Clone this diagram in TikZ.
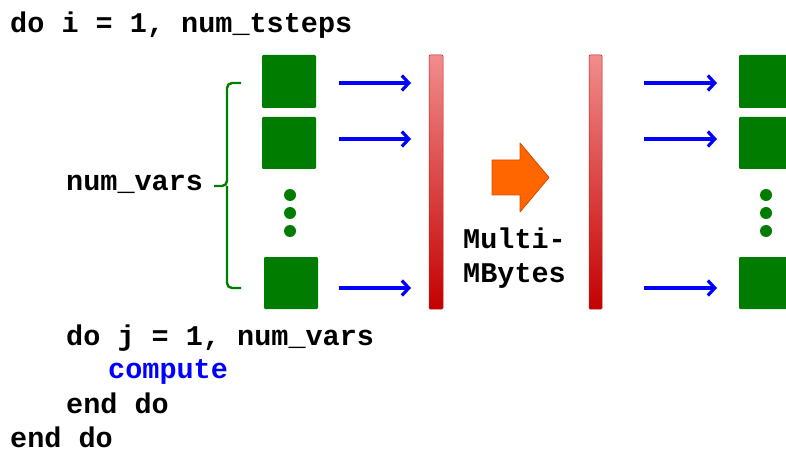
\documentclass[tikz,border=0pt]{standalone}
\usepackage{fontspec}
\setmonofont{Liberation Mono}
\usetikzlibrary{arrows.meta,shadings}
\definecolor{vargreen}{RGB}{0,124,0}
\definecolor{arrowblue}{RGB}{0,0,255}
\definecolor{bartop}{RGB}{242,140,140}
\definecolor{barbot}{RGB}{196,0,0}
\definecolor{barline}{RGB}{180,30,30}
\definecolor{bigorange}{RGB}{255,102,0}
\definecolor{bigorangeline}{RGB}{215,75,0}
\tikzset{
  code/.style={anchor=base west, inner sep=0pt, font=\ttfamily\bfseries\fontsize{28.5}{36}\selectfont},
  varbox/.style={fill=vargreen, rounded corners=1.2pt, inner sep=0pt},
  dotmark/.style={circle, fill=vargreen, inner sep=0pt, minimum size=12pt},
  flow/.style={draw=arrowblue, line width=3.2pt, -{Straight Barb[length=7pt,width=15pt,line width=3.2pt]}},
  buffer/.style={top color=bartop, bottom color=barbot, draw=barline, line width=0.5pt, rounded corners=1pt, inner sep=0pt},
  brace/.style={draw=vargreen, line width=2.4pt, rounded corners=5pt}
}
\begin{document}
\begin{tikzpicture}[x=1pt,y=-1pt]
\useasboundingbox (0,0) rectangle (786,454);

% loop text
\node[code] (outer) at (10,33) {do i = 1, num\_tsteps};
\node[code] (nv) at (66,191) {num\_vars};
\node[code] (inner) at (66,345) {do j = 1, num\_vars};
\node[code, text=arrowblue] (comp) at (108,378) {compute};
\node[code] (innerend) at (66,413) {end do};
\node[code] (outerend) at (10,447) {end do};
\node[code] (mb1) at (463,248) {Multi-};
\node[code] (mb2) at (463,282) {MBytes};

% variables on the left
\path[varbox] (262,55) rectangle (316,108);
\node[inner sep=0pt, minimum width=54pt, minimum height=53pt] (v1) at (289,81.5) {};
\path[varbox] (262,117) rectangle (316,169);
\node[inner sep=0pt, minimum width=54pt, minimum height=52pt] (v2) at (289,143) {};
\path[varbox] (264,257) rectangle (318,309);
\node[inner sep=0pt, minimum width=54pt, minimum height=52pt] (v3) at (291,283) {};
\node[dotmark] (d1) at (290,195) {};
\node[dotmark] (d2) at (290,213) {};
\node[dotmark] (d3) at (290,231) {};

% variables on the right
\path[varbox] (739,55) rectangle (800,108);
\node[inner sep=0pt, minimum width=47pt, minimum height=53pt] (w1) at (762.5,81.5) {};
\path[varbox] (739,117) rectangle (800,169);
\node[inner sep=0pt, minimum width=47pt, minimum height=52pt] (w2) at (762.5,143) {};
\path[varbox] (739,257) rectangle (800,309);
\node[inner sep=0pt, minimum width=47pt, minimum height=52pt] (w3) at (762.5,283) {};
\node[dotmark] (e1) at (766,195) {};
\node[dotmark] (e2) at (766,213) {};
\node[dotmark] (e3) at (766,231) {};

% buffers
\path[buffer] (429,55) rectangle (443,309);
\node[inner sep=0pt, minimum width=14pt, minimum height=254pt] (buf1) at (436,182) {};
\path[buffer] (589,55) rectangle (602,309);
\node[inner sep=0pt, minimum width=13pt, minimum height=254pt] (buf2) at (595.5,182) {};

% transfer arrow
\draw[fill=bigorange, draw=bigorangeline, line width=0.8pt, line join=round]
  (492,160) -- (520,160) -- (520,143) -- (549,177.5) -- (520,212) -- (520,195) -- (492,195) -- cycle;
\node[inner sep=0pt, minimum width=57pt, minimum height=69pt] (xfer) at (520.5,177.5) {};

% brace for num_vars
\coordinate (bt) at (241,83);
\coordinate (bb) at (241,288);
\coordinate (bm) at (214,186);
\draw[brace] (bt) -- (227,83) -- (227,186) -- (bm);
\draw[brace] (bb) -- (227,288) -- (227,186);

% write arrows
\coordinate (a1s) at (339,83);  \coordinate (a1e) at (411,83);
\coordinate (a2s) at (339,139); \coordinate (a2e) at (411,139);
\coordinate (a3s) at (339,288); \coordinate (a3e) at (411,288);
\draw[flow] (a1s) -- (a1e);
\draw[flow] (a2s) -- (a2e);
\draw[flow] (a3s) -- (a3e);

% read arrows
\coordinate (b1s) at (644,83);  \coordinate (b1e) at (717,83);
\coordinate (b2s) at (644,139); \coordinate (b2e) at (717,139);
\coordinate (b3s) at (644,288); \coordinate (b3e) at (717,288);
\draw[flow] (b1s) -- (b1e);
\draw[flow] (b2s) -- (b2e);
\draw[flow] (b3s) -- (b3e);
\end{tikzpicture}
\end{document}
